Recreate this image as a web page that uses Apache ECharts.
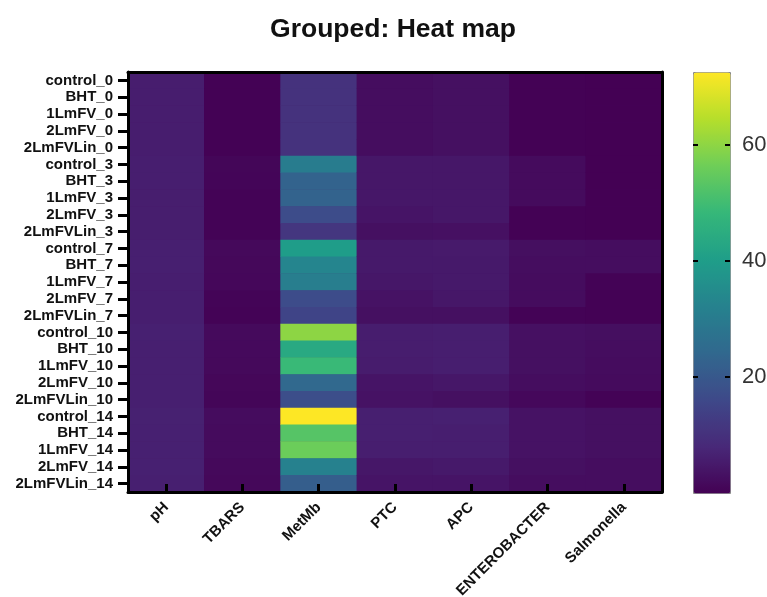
<!DOCTYPE html>
<html>
<head>
<meta charset="utf-8">
<script src="https://cdn.jsdelivr.net/npm/echarts@6/dist/echarts.min.js"></script>
<style>
  html, body { margin: 0; padding: 0; background: #fff; }
  #chart { width: 767px; height: 597px; }
</style>
</head>
<body>
<div id="chart"></div>
<script>
const rows = [
  'control_0', 'BHT_0', '1LmFV_0', '2LmFV_0', '2LmFVLin_0',
  'control_3', 'BHT_3', '1LmFV_3', '2LmFV_3', '2LmFVLin_3',
  'control_7', 'BHT_7', '1LmFV_7', '2LmFV_7', '2LmFVLin_7',
  'control_10', 'BHT_10', '1LmFV_10', '2LmFV_10', '2LmFVLin_10',
  'control_14', 'BHT_14', '1LmFV_14', '2LmFV_14', '2LmFVLin_14'
];
const cols = ['pH', 'TBARS', 'MetMb', 'PTC', 'APC', 'ENTEROBACTER', 'Salmonella'];

const phVals = [5.8, 5.8, 5.8, 5.8, 5.8, 6.0, 6.0, 5.9, 5.9, 5.9, 6.2, 6.2, 6.1, 6.0, 6.0, 6.4, 6.3, 6.3, 6.2, 6.2, 6.6, 6.5, 6.5, 6.4, 6.3];
const tbarsVals = [0.3, 0.3, 0.3, 0.3, 0.3, 1.0, 0.8, 0.5, 0.4, 0.4, 1.6, 1.4, 1.3, 0.6, 0.5, 1.8, 1.7, 1.6, 1.2, 1.0, 2.2, 2.0, 2.0, 1.6, 1.4];
const metmbVals = [10.5, 10.5, 10.5, 10.5, 10.5, 30.5, 23, 23, 17, 11.5, 40, 33, 31, 17, 15, 60, 44, 49, 24.5, 17.5, 72.6, 53, 56, 32, 21.5];
const ptcVals = [2.5, 2.5, 2.5, 2.5, 2.5, 4.5, 4.5, 4.5, 4, 3, 5, 5, 4.5, 3.5, 3, 5.8, 5.8, 5.5, 4, 3.5, 6.3, 6.3, 6, 4.5, 4];
const apcVals = [3, 3, 3, 3, 3, 4.5, 4.5, 4.5, 4.5, 3.2, 5.2, 5, 5, 4.5, 3, 6, 6, 6, 4.5, 3, 6.5, 6, 6, 5, 4];
const enteroVals = [0.2, 0.2, 0.2, 0.2, 0.2, 2, 2, 2, 0.3, 0.3, 2.8, 2.5, 2.3, 2.3, 0.5, 3.2, 3, 3, 2.5, 1.5, 3.5, 3.5, 3.5, 3, 2.5];
const salmVals = [0, 0, 0, 0, 0, 0, 0, 0, 0, 0, 2.5, 2.5, 0.5, 0.3, 0.3, 2.8, 2.5, 2.2, 2, 0.5, 3, 3, 3, 2.5, 2.5];

const colorTicks = [20, 40, 60];
const viridis = ['#440154', '#482878', '#3e4989', '#31688e', '#26828e', '#1f9e89', '#35b779', '#6ece58', '#b5de2b', '#fde725'];

const columns = [phVals, tbarsVals, metmbVals, ptcVals, apcVals, enteroVals, salmVals];
const cells = [];
columns.forEach((vals, c) => {
  vals.forEach((v, r) => {
    cells.push([c, r, v]);
  });
});

const font = 'Liberation Sans, Arial, sans-serif';
const chart = echarts.init(document.getElementById('chart'));

chart.setOption({
  backgroundColor: '#fff',
  animation: false,
  title: {
    text: 'Grouped: Heat map',
    left: 388,
    top: 11,
    textAlign: 'center',
    textStyle: { fontFamily: font, fontSize: 26.5, fontWeight: 'bold', color: '#111' }
  },
  grid: [
    // dark fill behind the cells hides the anti-aliased seams
    {
      left: 128, top: 72, width: 534, height: 420,
      outerBoundsMode: 'none',
      show: true, backgroundColor: '#471563', borderWidth: 0
    },
    { left: 693, top: 72, width: 37, height: 421, outerBoundsMode: 'none' }
  ],
  xAxis: [
    {
      type: 'category',
      gridIndex: 0,
      data: cols,
      position: 'bottom',
      z: 5,
      axisLine: { show: true, lineStyle: { color: '#000', width: 3 } },
      axisTick: { show: true, inside: true, length: 8, alignWithLabel: true, lineStyle: { color: '#000', width: 3 } },
      axisLabel: { interval: 0, rotate: 45, margin: 13, color: '#111', fontFamily: font, fontSize: 15, fontWeight: 'bold' },
      splitLine: { show: false }
    },
    {
      type: 'category',
      gridIndex: 0,
      data: cols,
      position: 'top',
      z: 5,
      axisLine: { show: true, lineStyle: { color: '#000', width: 3 } },
      axisTick: { show: false },
      axisLabel: { show: false }
    },
    {
      type: 'category',
      gridIndex: 1,
      data: [''],
      show: false
    }
  ],
  yAxis: [
    {
      type: 'category',
      gridIndex: 0,
      data: rows,
      inverse: true,
      position: 'left',
      z: 5,
      axisLine: { show: true, lineStyle: { color: '#000', width: 3 } },
      axisTick: { show: true, length: 10, alignWithLabel: true, lineStyle: { color: '#000', width: 3 } },
      axisLabel: { interval: 0, margin: 15, color: '#111', fontFamily: font, fontSize: 15, fontWeight: 'bold' }
    },
    {
      type: 'category',
      gridIndex: 0,
      data: rows,
      inverse: true,
      position: 'right',
      z: 5,
      axisLine: { show: true, lineStyle: { color: '#000', width: 3 } },
      axisTick: { show: false },
      axisLabel: { show: false }
    },
    {
      type: 'value',
      gridIndex: 1,
      min: 0,
      max: 72.6,
      interval: 20,
      position: 'right',
      z: 10,
      axisLine: { show: false },
      axisTick: { show: true, inside: true, length: 5, customValues: colorTicks, lineStyle: { color: '#000', width: 2 } },
      axisLabel: {
        margin: 12,
        color: '#333',
        fontFamily: font,
        fontSize: 22,
        customValues: colorTicks
      },
      splitLine: { show: false }
    },
    {
      type: 'value',
      gridIndex: 1,
      min: 0,
      max: 72.6,
      interval: 20,
      position: 'left',
      z: 10,
      axisLine: { show: false },
      axisTick: { show: true, inside: true, length: 5, customValues: colorTicks, lineStyle: { color: '#000', width: 2 } },
      axisLabel: { show: false },
      splitLine: { show: false }
    }
  ],
  visualMap: {
    type: 'continuous',
    seriesIndex: 0,
    min: 0,
    max: 72.6,
    calculable: false,
    left: 693,
    top: 72,
    itemWidth: 37,
    itemHeight: 421,
    padding: 0,
    z: 1,
    borderColor: '#888',
    borderWidth: 1,
    text: null,
    inRange: { color: viridis }
  },
  series: [
    {
      type: 'heatmap',
      xAxisIndex: 0,
      yAxisIndex: 0,
      data: cells,
      itemStyle: { borderWidth: 0 },
      emphasis: { disabled: true }
    }
  ]
});
</script>
</body>
</html>
